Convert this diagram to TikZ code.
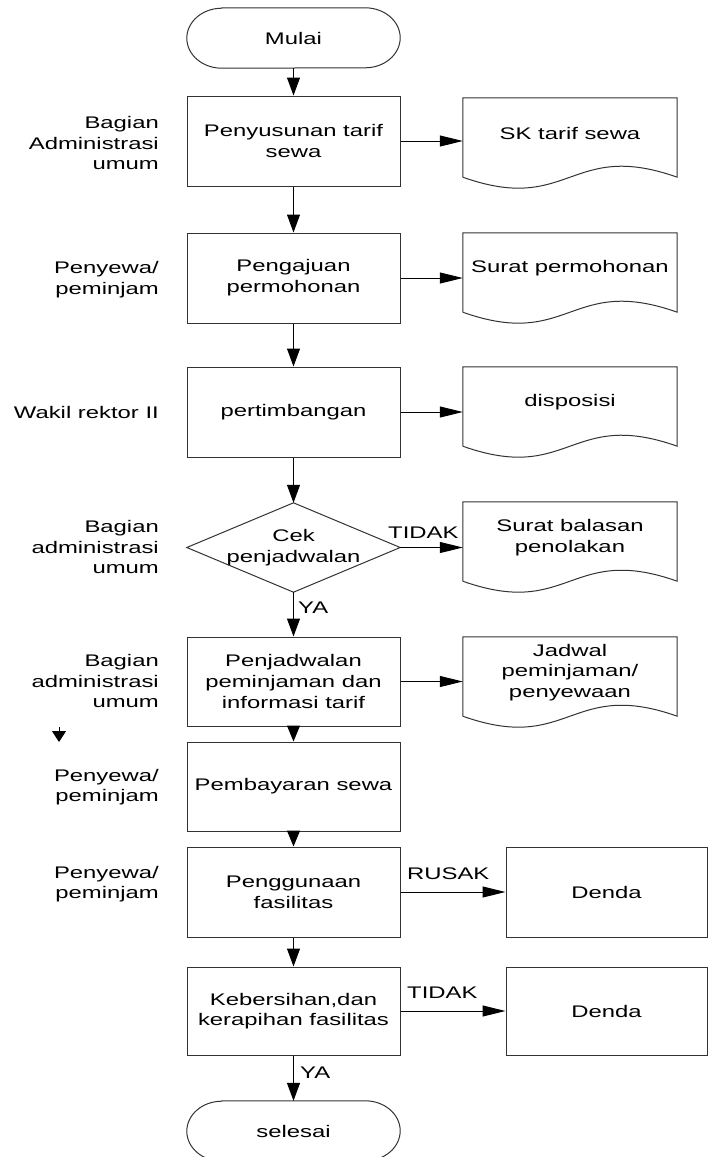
\documentclass[tikz,border=0pt]{standalone}
\usepackage{fontspec}
\setmainfont{Liberation Sans}[FakeStretch=1.42]
\usetikzlibrary{arrows.meta,calc}

% one unit = 1pt, y grows downwards
\tikzset{
  base/.style={font=\fontsize{16.8}{20.7}\selectfont, text=black},
  procbox/.style={base, draw=black!80, line width=1pt, minimum width=213pt,
    minimum height=90pt, align=center, inner sep=0pt},
  holder/.style={base, minimum width=213pt, minimum height=89pt, align=center, inner sep=0pt},
  termholder/.style={base, minimum width=213pt, minimum height=60pt, align=center, inner sep=0pt},
  docbox/.style={base, minimum width=214pt, minimum height=71pt, align=center, inner sep=0pt},
  outline/.style={draw=black!80, line width=1pt},
  flow/.style={line width=1pt, -{Triangle[length=18pt,width=13pt]}},
  flowtight/.style={line width=1pt, -{Triangle[length=16pt,width=13pt]}},
  side/.style={line width=1pt, -{Triangle[length=23pt,width=11pt]}},
  lane/.style={base, align=right, anchor=east, inner sep=0pt},
  tag/.style={base, anchor=base west, inner sep=0pt},
}

% outline of a terminator node: straight top and bottom, half-elliptic ends
\newcommand\drawterminal[1]{%
  \draw[outline] ($(#1.north west)+(35,0)$) -- ($(#1.north east)+(-35,0)$)
    arc[start angle=-90, end angle=90, x radius=35, y radius=30]
    -- ($(#1.south west)+(35,0)$)
    arc[start angle=90, end angle=270, x radius=35, y radius=30] -- cycle;}
% outline of a document node: sides run 8pt below the text area, wavy bottom edge
\newcommand\drawdocument[1]{%
  \draw[outline] ($(#1.south west)+(0,8)$) -- (#1.north west) -- (#1.north east)
    -- ($(#1.south east)+(0,8)$)
    .. controls ($(#1.south)+(0,-30)$) and ($(#1.south)+(0,46)$) .. ($(#1.south west)+(0,8)$);}

\begin{document}
\begin{tikzpicture}[x=1pt, y=-1pt]
  \useasboundingbox (0,0) rectangle (709,1157);
  \fill[white] (0,0) rectangle (709,1157);
  \clip (0,0) rectangle (709,1157);

  % lane labels
  \node[lane] (l1) at (159,143) {Bagian\\Administrasi\\umum};
  \node[lane] (l2) at (159,280) {Penyewa/\\peminjam};
  \node[lane] (l3) at (159,412) {Wakil rektor II};
  \node[lane] (l4) at (159,547) {Bagian\\administrasi\\umum};
  \node[lane] (l5) at (159,681) {Bagian\\administrasi\\umum};
  \node[lane] (l6) at (159,787) {Penyewa/\\peminjam};
  \node[lane] (l7) at (159,884) {Penyewa/\\peminjam};

  % main column
  \node[termholder] (start) at (293.5,38) {Mulai};
  \node[procbox] (b1) at (293.5,141) {Penyusunan tarif\\sewa};
  \node[procbox] (b2) at (293.5,278) {Pengajuan\\permohonan};
  \node[procbox] (b3) at (293.5,412) {pertimbangan};
  \node[holder] (cek) at (293.5,547.5) {Cek\\penjadwalan};
  \node[procbox, minimum height=89pt] (b5) at (293.5,681.5) {Penjadwalan\\peminjaman dan\\informasi tarif};
  \node[procbox, minimum height=89pt] (b6) at (293.5,786.5) {Pembayaran sewa};
  \node[procbox] (b7) at (293.5,892) {Penggunaan\\fasilitas};
  \node[procbox, minimum height=88pt] (b8) at (293.5,1011) {Kebersihan,dan\\kerapihan fasilitas};
  \node[termholder] (stop) at (293.5,1131) {selesai};
  \drawterminal{start}
  \drawterminal{stop}
  \draw[outline] (cek.north) -- (cek.east) -- (cek.south) -- (cek.west) -- cycle;

  % documents and outcomes
  \node[docbox] (d1) at (570,133.5) {SK tarif sewa};
  \node[docbox] (d2) at (570,268.5) {Surat permohonan};
  \node[docbox] (d3) at (570,402.5) {disposisi};
  \node[docbox] (d4) at (570,537.5) {Surat balasan\\penolakan};
  \node[docbox] (d5) at (570,672.5) {Jadwal\\peminjaman/\\penyewaan};
  \foreach \d in {d1,d2,d3,d4,d5} {\drawdocument{\d}}
  \node[procbox, minimum width=201pt] (den1) at (606.5,892) {Denda};
  \node[procbox, minimum width=201pt, minimum height=88pt] (den2) at (606.5,1011) {Denda};

  % flow
  \draw[flow] (start.south) -- (b1.north);
  \draw[side] (b1.east) -- (b1.east -| d1.west);
  \draw[flow] (b1.south) -- (b2.north);
  \draw[side] (b2.east) -- (b2.east -| d2.west);
  \draw[flow] (b2.south) -- (b3.north);
  \draw[side] (b3.east) -- (b3.east -| d3.west);
  \draw[flow] (b3.south) -- (cek.north);
  \draw[side] (cek.east) -- (cek.east -| d4.west);
  \draw[flow] (cek.south) -- (b5.north);
  \draw[side] (b5.east) -- (b5.east -| d5.west);
  \draw[flowtight] (b5.south) -- (b6.north);
  \draw[flowtight] (b6.south) -- (b7.north);
  \draw[side] (b7.east) -- (b7.east -| den1.west);
  \draw[flow] (b7.south) -- (b8.north);
  \draw[side] (b8.east) -- (b8.east -| den2.west);
  \draw[flow] (b8.south) -- (stop.north);

  % small loose arrow in the lane column
  \coordinate (s1) at (59,727);
  \coordinate (s2) at (59,742);
  \draw[line width=1pt, -{Triangle[length=11pt,width=14pt]}] (s1) -- (s2);

  % branch labels
  \node[tag] (t1) at (388,538) {TIDAK};
  \node[tag] (y1) at (298,613) {YA};
  \node[tag] (r1) at (407,879) {RUSAK};
  \node[tag] (t2) at (407,998) {TIDAK};
  \node[tag] (y2) at (300,1078) {YA};
\end{tikzpicture}
\end{document}
